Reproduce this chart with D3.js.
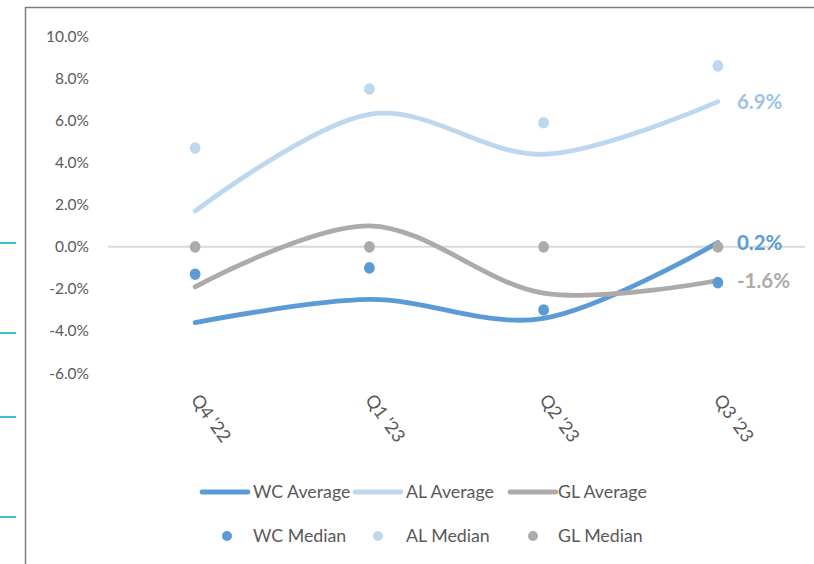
<!DOCTYPE html>
<html>
<head>
<meta charset="utf-8">
<script src="https://cdn.jsdelivr.net/npm/d3@7"></script>
<style>
  html, body { margin: 0; padding: 0; background: #fff; }
  svg { display: block; }
  text { font-family: Lato, "Open Sans", sans-serif; fill: #595959; }
</style>
</head>
<body>
<svg id="chart" width="814" height="564"></svg>
<script>
// Quarterly change figures (%)
const quarters = ["Q4 '22", "Q1 '23", "Q2 '23", "Q3 '23"];
const wcAverage = [-3.6, -2.5, -3.4, 0.2];
const alAverage = [1.7, 6.3, 4.4, 6.9];
const glAverage = [-1.9, 1.0, -2.2, -1.6];
const wcMedian = [-1.3, -1.0, -3.0, -1.7];
const alMedian = [4.7, 7.5, 5.9, 8.6];
const glMedian = [0.0, 0.0, 0.0, 0.0];
const yTicks = [-6, -4, -2, 0, 2, 4, 6, 8, 10];

const colors = { wc: "#5b9bd5", al: "#bdd7ee", gl: "#aeaaaa" };
const labelColors = { wc: "#5b9bd5", al: "#9dc3e6", gl: "#aeaaaa" };

const svg = d3.select("#chart");

// frame edges
svg.append("line").attr("x1", 25.5).attr("x2", 25.5).attr("y1", 7).attr("y2", 564)
  .attr("stroke", "#7f7f7f").attr("stroke-width", 1.5);
svg.append("line").attr("x1", 25).attr("x2", 814).attr("y1", 7.5).attr("y2", 7.5)
  .attr("stroke", "#7f7f7f").attr("stroke-width", 1.5);

// small marks at the left margin
[243, 333, 417, 517].forEach(y => {
  svg.append("line").attr("x1", 0).attr("x2", 16).attr("y1", y).attr("y2", y)
    .attr("stroke", "#45bcd6").attr("stroke-width", 2);
});

const x = d3.scalePoint().domain(quarters).range([108, 805]).padding(0.5);
const y = d3.scaleLinear().domain([-6, 10]).range([373.1, 36.4]);

// y axis labels
const yAxis = d3.axisLeft(y).tickValues(yTicks).tickSize(0).tickPadding(0)
  .tickFormat(d => d.toFixed(1) + "%");
const gy = svg.append("g").attr("transform", "translate(89,0)").call(yAxis);
gy.select(".domain").remove();
gy.selectAll("text").attr("font-size", 15.5).attr("fill", "#595959")
  .style("font-family", "Lato, sans-serif");

// zero line
svg.append("line").attr("x1", 108).attr("x2", 805)
  .attr("y1", y(0)).attr("y2", y(0))
  .attr("stroke", "#d9d9d9").attr("stroke-width", 2);

// rotated category labels
svg.append("g").selectAll("text").data(quarters).join("text")
  .attr("transform", d => `translate(${x(d) - 5},400) rotate(54)`)
  .attr("font-size", 18)
  .text(d => d);

// smoothed average lines
const line = d3.line()
  .x((d, i) => x(quarters[i]))
  .y(d => y(d))
  .curve(d3.curveCardinal.tension(0));

const averages = [
  { key: "wc", values: wcAverage },
  { key: "al", values: alAverage },
  { key: "gl", values: glAverage }
];
svg.append("g").selectAll("path").data(averages).join("path")
  .attr("d", d => line(d.values))
  .attr("fill", "none")
  .attr("stroke", d => colors[d.key])
  .attr("stroke-width", 4.8)
  .attr("stroke-linecap", "round");

// median markers
const medians = [
  { key: "wc", values: wcMedian },
  { key: "al", values: alMedian },
  { key: "gl", values: glMedian }
];
medians.forEach(s => {
  svg.append("g").selectAll("ellipse").data(s.values).join("ellipse")
    .attr("cx", (d, i) => x(quarters[i]))
    .attr("cy", d => y(d))
    .attr("rx", 5.4).attr("ry", 5.8)
    .attr("fill", colors[s.key]);
});

// end-of-line value labels
const last = quarters.length - 1;
svg.append("g").selectAll("text").data(averages).join("text")
  .attr("x", x(quarters[last]) + 19)
  .attr("y", d => y(d.values[last]))
  .attr("dy", "0.36em")
  .attr("font-size", 20.5)
  .attr("font-weight", "bold")
  .style("fill", d => labelColors[d.key])
  .text(d => d.values[last].toFixed(1) + "%");

// legend
const legendNames = ["WC", "AL", "GL"];
const legendTextX = [253, 406, 558];
const legendSampleX = [202, 355, 510];
const legendDotX = [227, 378, 533];
const legendKeys = ["wc", "al", "gl"];
const lg = svg.append("g");
legendKeys.forEach((k, i) => {
  lg.append("line")
    .attr("x1", legendSampleX[i]).attr("x2", legendSampleX[i] + 46)
    .attr("y1", 492).attr("y2", 492)
    .attr("stroke", colors[k]).attr("stroke-width", 4.8).attr("stroke-linecap", "round");
  lg.append("text").attr("x", legendTextX[i]).attr("y", 492).attr("dy", "0.36em")
    .attr("font-size", 17.8).text(legendNames[i] + " Average");
  lg.append("circle").attr("cx", legendDotX[i]).attr("cy", 536).attr("r", 5)
    .attr("fill", colors[k]);
  lg.append("text").attr("x", legendTextX[i]).attr("y", 536).attr("dy", "0.36em")
    .attr("font-size", 17.8).text(legendNames[i] + " Median");
});
</script>
</body>
</html>
